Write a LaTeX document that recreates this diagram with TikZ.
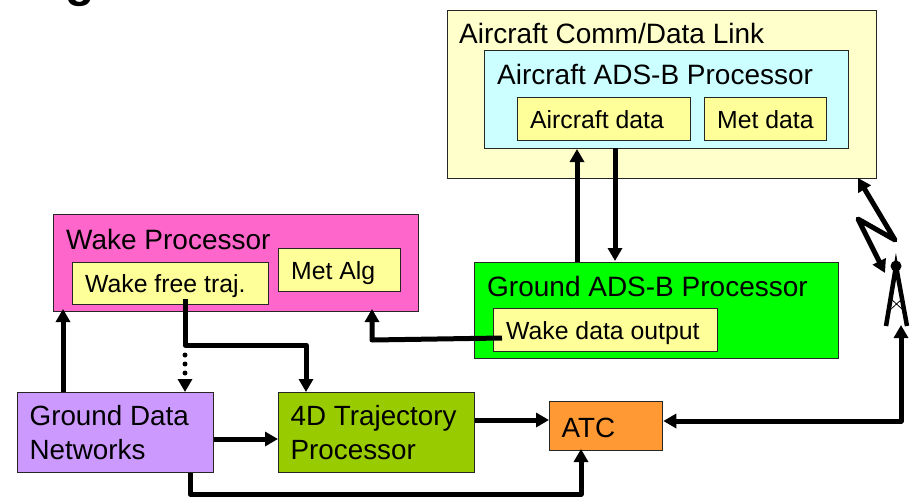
\documentclass[tikz,border=0pt]{standalone}
\usepackage{fontspec}
\setmainfont{Liberation Sans}
\usetikzlibrary{arrows.meta}
\definecolor{paleyellow}{HTML}{FFFFCC}
\definecolor{paleaqua}{HTML}{CCFFFF}
\definecolor{softyellow}{HTML}{FFFF99}
\definecolor{wakepink}{HTML}{FF66CC}
\definecolor{groundgreen}{HTML}{00FF00}
\definecolor{netviolet}{HTML}{CC99FF}
\definecolor{trajgreen}{HTML}{99CC00}
\definecolor{atcorange}{HTML}{FF9933}
\tikzset{
  block/.style={rectangle, draw=black!85, line width=1.3pt, anchor=north west, inner ysep=0pt, inner xsep=12.5pt, align=flush left},
  caption/.style={anchor=base west, inner sep=0pt, font=\fontsize{28}{34}\selectfont},
  bigtext/.style={inner xsep=12pt, font=\fontsize{27.8}{34}\selectfont},
  small/.style={fill=softyellow, font=\fontsize{24.8}{30}\selectfont, text height=18pt, text depth=0pt},
  tip/.style={-{Triangle[length=13pt,width=14pt]}},
  bothtips/.style={{Triangle[length=13pt,width=14pt]}-{Triangle[length=13pt,width=14pt]}},
  link/.style={line width=5pt, line join=round, tip},
}
\begin{document}
\begin{tikzpicture}[x=1pt,y=-1pt]
        \useasboundingbox (0,0) rectangle (915,501);
        \node[anchor=base, inner sep=0pt, font=\bfseries\fontsize{48}{48}\selectfont] (title) at (80,-4) {g};

        \node[block, fill=paleyellow, minimum width=429pt, minimum height=168pt] (aircraft) at (447,10) {};
        \node[block, fill=paleaqua, minimum width=364pt, minimum height=98pt] (adsb) at (484,50) {};
        \node[block, small, text width=148pt, minimum height=43pt] (acdata) at (517,97) {Aircraft data};
        \node[block, small, text width=97pt, minimum height=43pt] (metdata) at (704,97) {Met data};
        \node[caption] (aircraftlab) at (459,43) {Aircraft Comm/Data Link};
        \node[caption] (adsblab) at (497,84) {Aircraft ADS-B Processor};

        \node[block, fill=wakepink, minimum width=365pt, minimum height=97pt] (wake) at (53,214) {};
        \node[caption] (wakelab) at (66,249) {Wake Processor};
        \node[block, small, text width=171pt, minimum height=42pt] (wakefree) at (72,262) {Wake free traj.};
        \node[block, small, text width=97pt, minimum height=43pt] (metalg) at (278,248) {Met Alg};

        \node[block, fill=groundgreen, minimum width=364pt, minimum height=96pt] (ground) at (474,262) {};
        \node[caption] (groundlab) at (487,296) {Ground ADS-B Processor};
        \node[block, small, text width=199pt, minimum height=43pt] (wakeout) at (493,308) {Wake data output};

        \node[block, bigtext, fill=netviolet, text width=172pt, minimum height=80pt] (networks) at (17,392) {Ground Data\\Networks};
        \node[block, bigtext, fill=trajgreen, text width=172pt, minimum height=80pt] (traj) at (278,392) {4D Trajectory\\Processor};
        \node[block, bigtext, fill=atcorange, text width=89pt, minimum height=49pt, text height=23pt] (atc) at (549,401) {ATC};

        \coordinate (wakein) at (63,309);
        \coordinate (netup) at (63,392);
        \draw[link] (netup) -- (wakein);
        \coordinate (freeout) at (185,299);
        \coordinate (trajin) at (306,392);
        \draw[link] (freeout) -- (185,345) -- (306,345) -- (trajin);
        \coordinate (dotstart) at (185,355);
        \coordinate (netin) at (185,392);
        \draw[line width=5pt, line cap=round, dash pattern=on 0pt off 9pt, tip] (dotstart) -- (netin);
        \draw[link] (networks.east |- 0,439) -- (traj.west |- 0,439);
        \coordinate (netdown) at (190,473);
        \coordinate (atcin) at (581,449);
        \draw[link] (netdown) -- (190,494) -- (581,494) -- (atcin);
        \draw[link] (traj.east |- 0,420) -- (atc.west |- 0,420);
        \coordinate (outstart) at (502,338);
        \coordinate (wakeback) at (372,309);
        \draw[link] (outstart) -- (372,340) -- (wakeback);
        \coordinate (upfoot) at (577,262);
        \coordinate (uptip) at (577,149);
        \draw[link] (upfoot) -- (uptip);
        \coordinate (downtop) at (615,148);
        \coordinate (downfoot) at (615,261);
        \draw[link] (downtop) -- (downfoot);

        % antenna
        \node[circle, fill=black, minimum size=11pt, inner sep=0pt] (mast) at (896,266) {};
        \coordinate (footl) at (886,326);
        \coordinate (footr) at (907,326);
        \draw[line width=4.5pt] (footl) -- (mast.center) -- (footr);
        \draw[line width=.8pt] (891,299) -- (902,309) (902,299) -- (891,309);
        \coordinate (boltin) at (858,178);
        \coordinate (boltout) at (885,273);
        \draw[line width=5pt, line join=round, bothtips] (boltin) -- (895,240) -- (858,219) -- (boltout);
        \coordinate (mastin) at (901,325);
        \draw[line width=5pt, line join=round, bothtips] (atc.east |- 0,421) -- (901,421) -- (mastin);
    \end{tikzpicture}
\end{document}
